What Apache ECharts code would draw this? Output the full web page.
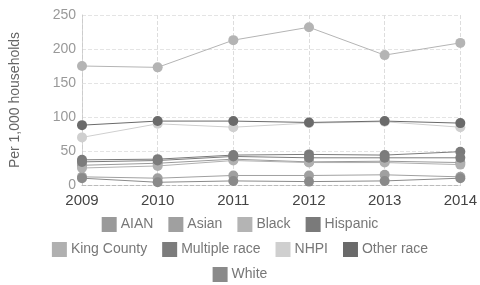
<!DOCTYPE html>
<html>
<head>
<meta charset="utf-8">
<script src="https://cdn.jsdelivr.net/npm/echarts@6/dist/echarts.min.js"></script>
<style>
  html, body { margin: 0; padding: 0; background: #fff; }
  #chart { width: 480px; height: 285px; }
</style>
</head>
<body>
<div id="chart"></div>
<script>
const years = ["2009", "2010", "2011", "2012", "2013", "2014"];
const yTicks = [0, 50, 100, 150, 200, 250];

const aian = [29, 32, 38, 34, 35, 33];
const asian = [12, 10, 14, 14, 15, 12];
const black = [175, 173, 213, 232, 191, 209];
const hispanic = [37, 38, 44, 45, 44, 49];
const kingCounty = [25, 28, 36, 33, 33, 30];
const multipleRace = [34, 36, 42, 40, 40, 40];
const nhpi = [70, 90, 85, 91, 93, 85];
const otherRace = [88, 94, 94, 92, 94, 91];
const white = [10, 4, 6, 5, 6, 10];

const names = ["AIAN", "Asian", "Black", "Hispanic", "King County", "Multiple race", "NHPI", "Other race", "White"];
const values = [aian, asian, black, hispanic, kingCounty, multipleRace, nhpi, otherRace, white];
const colors = ["#9a9a9a", "#a0a0a0", "#b4b4b4", "#7a7a7a", "#b0b0b0", "#7c7c7c", "#cfcfcf", "#6a6a6a", "#8a8a8a"];

// legend rows as in the reference
const legendRows = [names.slice(0, 4), names.slice(4, 8), names.slice(8)];
const legendTops = [217, 242, 267];

const chart = echarts.init(document.getElementById("chart"));
chart.setOption({
  animation: false,
  color: colors,
  grid: { left: 82, right: 17, top: 15, bottom: 100 },
  legend: legendRows.map((row, i) => ({
    data: row,
    top: legendTops[i],
    left: "center",
    itemWidth: 15,
    itemHeight: 15,
    itemGap: 15,
    icon: "rect",
    padding: 0,
    textStyle: { color: "#777", fontSize: 14, fontFamily: "Liberation Sans", padding: [0, 0, 0, -1] }
  })),
  xAxis: {
    type: "category",
    data: years,
    boundaryGap: false,
    axisLine: { lineStyle: { color: "#bbb", type: "dashed" } },
    axisTick: { show: false },
    axisLabel: { color: "#444", fontSize: 15, fontFamily: "Liberation Sans", margin: 8 },
    splitLine: { show: true, lineStyle: { color: "#ddd", type: "dashed" } }
  },
  yAxis: {
    type: "value",
    min: 0,
    max: 250,
    interval: 50,
    name: "Per 1,000 households",
    nameLocation: "middle",
    nameGap: 60,
    nameTextStyle: { color: "#666", fontSize: 14, fontFamily: "Liberation Sans" },
    axisLine: { show: true, lineStyle: { color: "#ccc", type: "dashed" } },
    axisLabel: { color: "#999", fontSize: 14, fontFamily: "Liberation Sans", margin: 6,
      formatter: v => yTicks.includes(v) ? String(v) : "" },
    splitLine: { lineStyle: { color: "#e4e4e4", type: "dashed" } }
  },
  series: names.map((n, i) => ({
    name: n,
    type: "line",
    data: values[i],
    symbol: "circle",
    symbolSize: 10,
    lineStyle: { width: 1 },
    itemStyle: { color: colors[i] }
  }))
});
</script>
</body>
</html>
